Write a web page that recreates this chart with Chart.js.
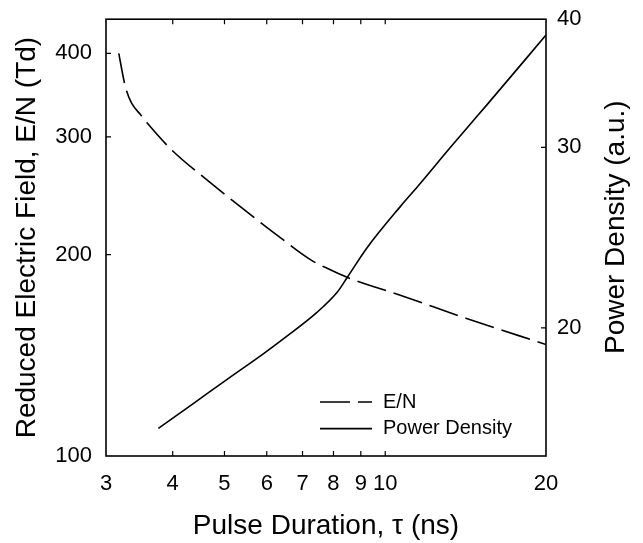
<!DOCTYPE html>
<html lang="en">

<head>
    <meta charset="UTF-8">
    <script src="https://cdn.jsdelivr.net/npm/chart.js"></script>
    <title>Reduced field and power density vs pulse duration</title>
    <style>
        body {
            margin: 0;
            background-color: #FFFFFF;
        }
    </style>
</head>

<body>
    <canvas id="chart" width="643" height="543"></canvas>
    <script>
        // E/N curve (left axis, Td)
        let pulseEN = [3.17, 3.24, 3.28, 3.35, 3.48, 3.58, 3.98, 4.63, 5.39, 6.27, 7.29, 7.77, 8.48, 10.67, 14.2, 20];
        let reducedField = [400, 365, 351, 337, 324, 315, 287, 259, 235, 214, 196, 191, 185, 174, 160.6, 146.8];

        // Power density curve (right axis, a.u.)
        let pulsePD = [3.76, 4.37, 5.05, 5.91, 6.49, 7.45, 8.12, 8.48, 9.24, 10.67, 11.5, 13.2, 14.2, 15.5, 20];
        let powerDensity = [15.96, 16.87, 17.81, 18.87, 19.57, 20.71, 21.65, 22.38, 23.93, 26.26, 27.47, 29.93, 31.3, 33.0, 38.6];

        let xTicks = [3, 4, 5, 6, 7, 8, 9, 10, 20];
        let yLeftTicks = [100, 200, 300, 400];
        let yRightTicks = [20, 30, 40];

        let rightTitle = 'Power Density (a.u.)';

        function pts(xs, ys) {
            return xs.map((x, i) => ({x: x, y: ys[i]}));
        }

        let FONT = "'Liberation Sans', Arial, sans-serif";

        // frame, inward tick marks, legend inside the plot and the right title
        let framePlugin = {
            id: 'frame',
            afterDatasetsDraw(chart) {
                let ctx = chart.ctx;
                let a = chart.chartArea;
                let sx = chart.scales.x, sl = chart.scales.y, sr = chart.scales.y2;
                ctx.save();
                ctx.strokeStyle = '#000';
                ctx.lineWidth = 1.6;
                ctx.strokeRect(a.left, a.top, a.right - a.left, a.bottom - a.top);
                ctx.lineWidth = 1.2;
                ctx.beginPath();
                xTicks.slice(1, -1).forEach(v => {
                    let px = sx.getPixelForValue(v);
                    ctx.moveTo(px, a.bottom); ctx.lineTo(px, a.bottom - 5);
                    ctx.moveTo(px, a.top); ctx.lineTo(px, a.top + 5);
                });
                yLeftTicks.slice(1).forEach(v => {
                    let py = sl.getPixelForValue(v);
                    ctx.moveTo(a.left, py); ctx.lineTo(a.left + 5, py);
                });
                yRightTicks.slice(0, -1).forEach(v => {
                    let py = sr.getPixelForValue(v);
                    ctx.moveTo(a.right, py); ctx.lineTo(a.right - 5, py);
                });
                ctx.stroke();

                // legend
                ctx.font = '20px ' + FONT;
                ctx.fillStyle = '#000';
                ctx.textBaseline = 'middle';
                chart.data.datasets.forEach((ds, i) => {
                    let y = a.bottom - 54 + i * 26.6;
                    ctx.lineWidth = ds.borderWidth;
                    ctx.setLineDash(ds.borderDash || []);
                    ctx.beginPath();
                    ctx.moveTo(a.left + 214, y);
                    ctx.lineTo(a.left + 266, y);
                    ctx.stroke();
                    ctx.setLineDash([]);
                    ctx.fillText(ds.label, a.left + 277, y);
                });

                // right axis title, read bottom to top
                ctx.font = '28px ' + FONT;
                ctx.textAlign = 'center';
                ctx.translate(a.right + 70, a.top + 208);
                ctx.rotate(-Math.PI / 2);
                ctx.fillText(rightTitle, 0, 0);
                ctx.restore();
            }
        };

        function fixedTicks(list) {
            return (scale) => {
                scale.ticks = list.map(v => ({value: v}));
            };
        }

        let chart = new Chart(document.getElementById('chart').getContext('2d'), {
            type: 'line',
            data: {
                datasets: [{
                    label: 'E/N',
                    data: pts(pulseEN, reducedField),
                    yAxisID: 'y',
                    borderColor: '#000',
                    borderWidth: 1.6,
                    borderDash: [30, 8],
                    pointRadius: 0,
                    cubicInterpolationMode: 'monotone',
                    fill: false
                }, {
                    label: 'Power Density',
                    data: pts(pulsePD, powerDensity),
                    yAxisID: 'y2',
                    borderColor: '#000',
                    borderWidth: 1.6,
                    pointRadius: 0,
                    cubicInterpolationMode: 'monotone',
                    fill: false
                }]
            },
            options: {
                responsive: false,
                animation: false,
                devicePixelRatio: 1,
                layout: {padding: {top: 16, left: 0, right: 0, bottom: 0}},
                plugins: {legend: {display: false}, tooltip: {enabled: false}},
                scales: {
                    x: {
                        type: 'logarithmic',
                        min: 3,
                        max: 20,
                        afterBuildTicks: fixedTicks(xTicks),
                        afterFit: (s) => { s.height = 87; },
                        grid: {display: false},
                        border: {display: false},
                        ticks: {
                            color: '#000',
                            font: {family: FONT, size: 22},
                            padding: 7,
                            maxRotation: 0,
                            autoSkip: false,
                            callback: (v) => String(v)
                        },
                        title: {
                            display: true,
                            text: 'Pulse Duration, \u03c4 (ns)',
                            color: '#000',
                            font: {family: FONT, size: 28},
                            padding: {top: 0, bottom: 0}
                        }
                    },
                    y: {
                        type: 'logarithmic',
                        position: 'left',
                        min: 100,
                        max: 450,
                        afterBuildTicks: fixedTicks(yLeftTicks),
                        afterFit: (s) => { s.width = 106; },
                        grid: {display: false},
                        border: {display: false},
                        ticks: {
                            color: '#000',
                            font: {family: FONT, size: 22},
                            padding: 6,
                            autoSkip: false,
                            callback: (v) => String(v)
                        },
                        title: {
                            display: true,
                            text: 'Reduced Electric Field, E/N (Td)',
                            color: '#000',
                            font: {family: FONT, size: 28},
                            padding: {top: 10, bottom: 0}
                        }
                    },
                    y2: {
                        type: 'logarithmic',
                        position: 'right',
                        min: 15,
                        max: 40,
                        afterBuildTicks: fixedTicks(yRightTicks),
                        afterFit: (s) => { s.width = 97; },
                        grid: {display: false},
                        border: {display: false},
                        ticks: {
                            color: '#000',
                            font: {family: FONT, size: 22},
                            padding: 3,
                            autoSkip: false,
                            callback: (v) => String(v)
                        },
                        title: {display: false}
                    }
                }
            },
            plugins: [framePlugin]
        });
    </script>
</body>

</html>
